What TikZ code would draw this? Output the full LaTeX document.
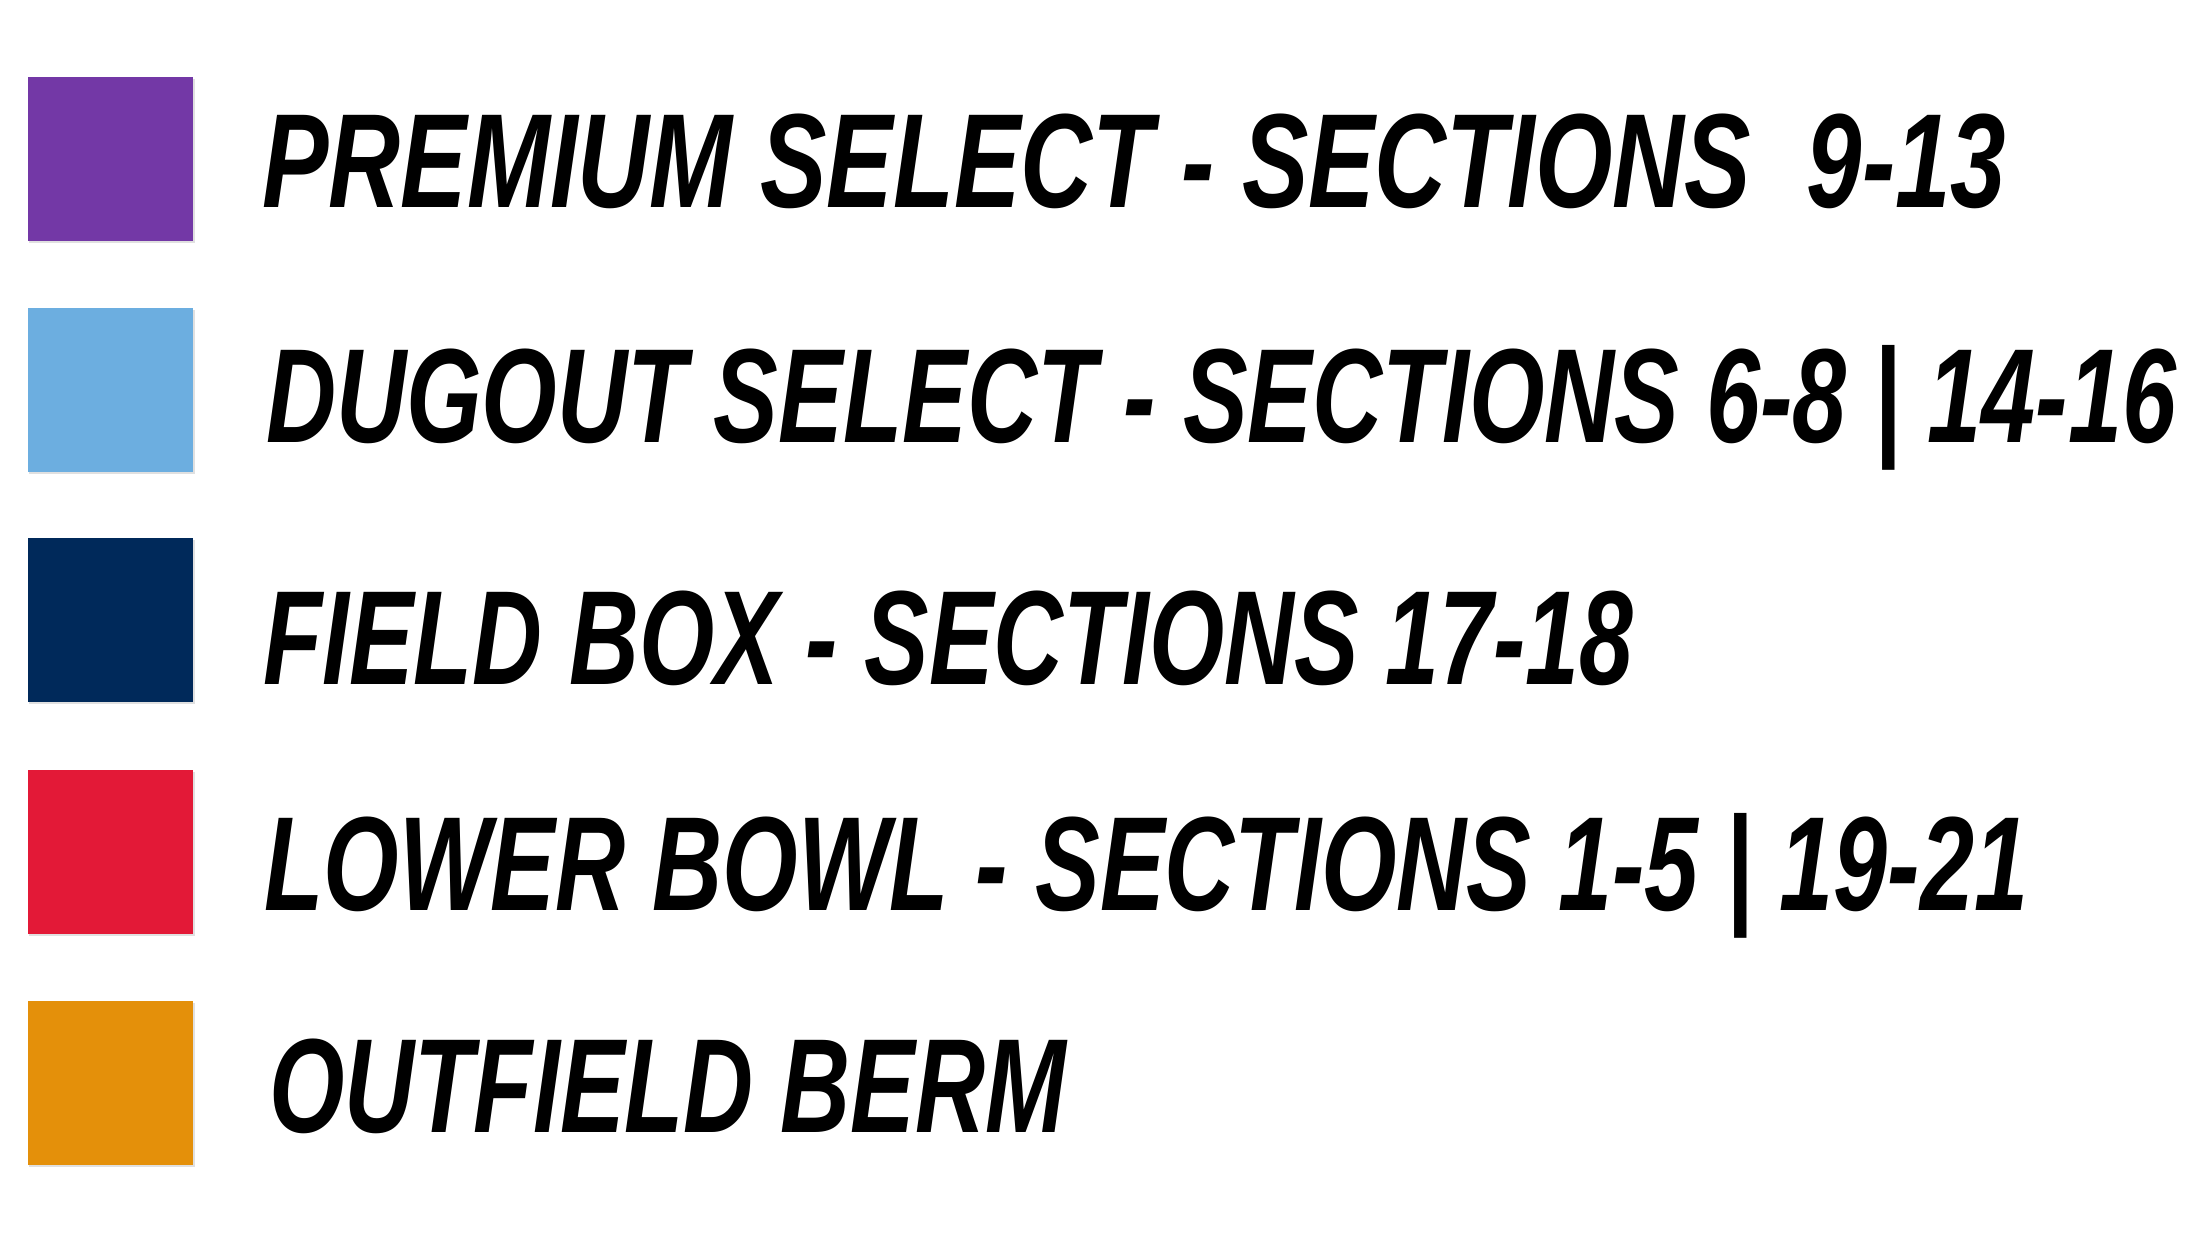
\documentclass[tikz,border=0pt]{standalone}
\usepackage{fontspec}
\setmainfont{Liberation Sans}
\usepackage{graphicx}
\definecolor{cpurple}{HTML}{7338A6}
\definecolor{cblue}{HTML}{6CAEE0}
\definecolor{cnavy}{HTML}{00295A}
\definecolor{cred}{HTML}{E31937}
\definecolor{corange}{HTML}{E4900A}
\tikzset{
  swatch/.style={draw=none, inner sep=0pt, minimum width=165pt, minimum height=164pt, anchor=north west},
  legendtext/.style={anchor=base west, inner sep=0pt, font=\fontsize{134}{134}\selectfont\bfseries\itshape}
}
\newcommand{\fitw}[2]{\resizebox{#1}{\height}{#2}}
\begin{document}
\begin{tikzpicture}[x=1pt,y=-1pt]
\useasboundingbox[fill=white] (0,0) rectangle (2208,1242);
% shadows
\foreach \yy in {77,308,538,770,1001}{
  \fill[black!12] (29,\yy+2) rectangle (195,\yy+166);
}
\node[swatch, fill=cpurple] (s1) at (28,77) {};
\node[swatch, fill=cblue] (s2) at (28,308) {};
\node[swatch, fill=cnavy] (s3) at (28,538) {};
\node[swatch, fill=cred] (s4) at (28,770) {};
\node[swatch, fill=corange] (s5) at (28,1001) {};
\node[legendtext] (t1) at (262,207) {\fitw{1744pt}{PREMIUM SELECT - SECTIONS\ \ 9-13}};
\node[legendtext] (t2) at (266,442) {\fitw{1910pt}{DUGOUT SELECT - SECTIONS 6-8 | 14-16}};
\node[legendtext] (t3) at (263,684) {\fitw{1370pt}{FIELD BOX - SECTIONS 17-18}};
\node[legendtext] (t4) at (264,910) {\fitw{1764pt}{LOWER BOWL - SECTIONS 1-5 | 19-21}};
\node[legendtext] (t5) at (269,1132) {\fitw{797pt}{OUTFIELD BERM}};
\end{tikzpicture}
\end{document}
